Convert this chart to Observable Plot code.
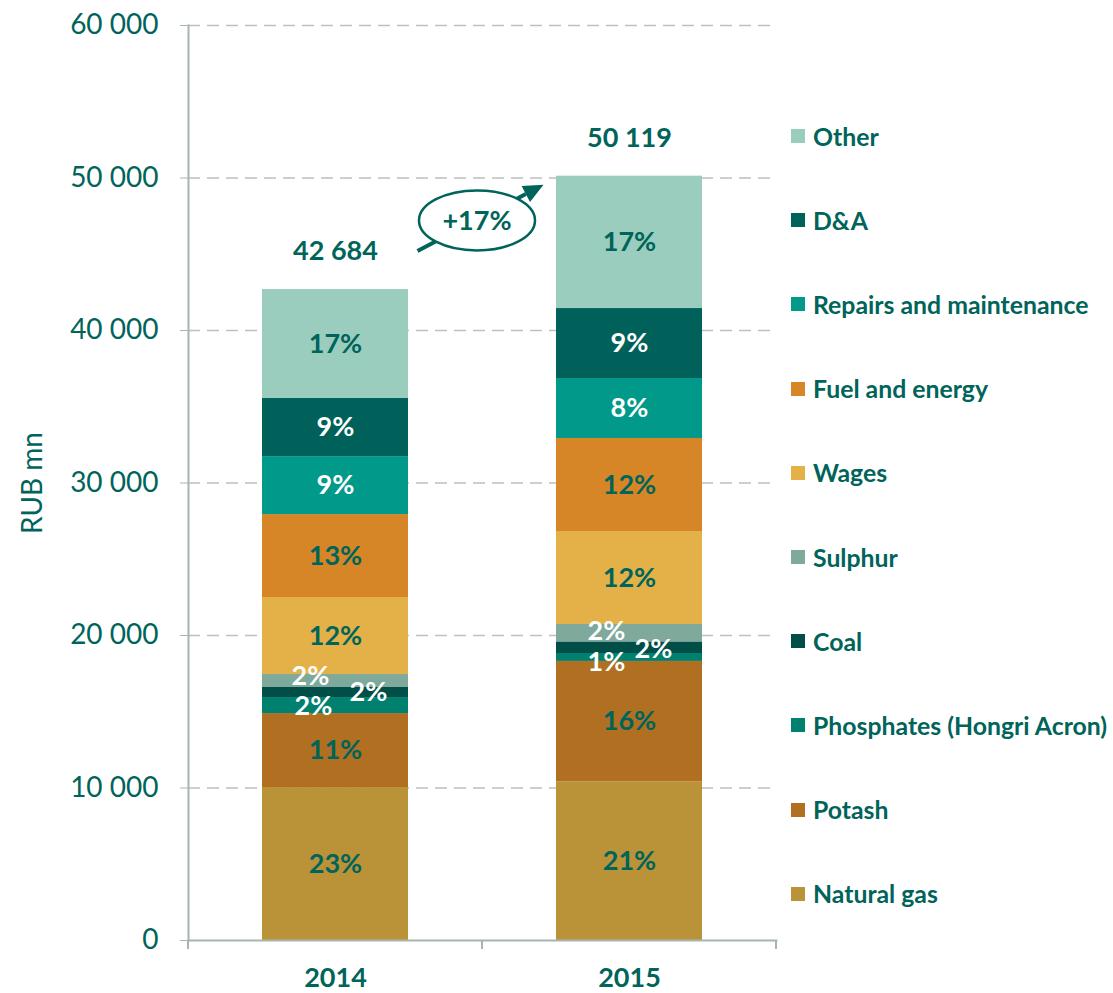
<!DOCTYPE html>
<html><head><meta charset="utf-8">
<script src="https://cdn.jsdelivr.net/npm/d3@7"></script>
<script src="https://cdn.jsdelivr.net/npm/@observablehq/plot@0.6"></script>
<style>
body{margin:0;background:#fff;font-family:Lato,sans-serif;}
#wrap{position:relative;width:1113px;height:993px;overflow:hidden;}
#chart{position:absolute;left:0;top:0;}
#legend{position:absolute;left:791px;top:94px;}
.item{height:84.2px;display:flex;align-items:center;white-space:nowrap;font-weight:bold;font-size:24.8px;color:#00645A;}
.sw{width:14px;height:14px;margin-right:8px;flex:none;}
</style></head><body>
<div id="wrap"><div id="chart"></div><div id="legend"></div></div>
<script>
// ---- data ----
const years = ["2014", "2015"];
const categories = ["Natural gas", "Potash", "Phosphates (Hongri Acron)", "Coal", "Sulphur",
  "Wages", "Fuel and energy", "Repairs and maintenance", "D&A", "Other"];
const values2014 = [10030, 4850, 1050, 660, 850, 5050, 5440, 3800, 3810, 7144];
const values2015 = [10400, 7900, 520, 760, 1140, 6100, 6100, 3930, 4590, 8679];
const shares2014 = ["23%", "11%", "2%", "2%", "2%", "12%", "13%", "9%", "9%", "17%"];
const shares2015 = ["21%", "16%", "1%", "2%", "2%", "12%", "12%", "8%", "9%", "17%"];
const totals = [42684, 50119];
const totalLabels = ["42 684", "50 119"];
const growthLabel = "+17%";
const yTicks = [0, 10000, 20000, 30000, 40000, 50000, 60000];

// ---- styles ----
const colors = ["#BA9238", "#B06F21", "#00816F", "#004E47", "#7EA99B",
  "#E4B148", "#D68627", "#00998A", "#00615A", "#9ACDBD"];
const whiteText = new Set(["Phosphates (Hongri Acron)", "Coal", "Sulphur", "Repairs and maintenance", "D&A"]);
const TEAL = "#00645A";
const FONT = "Lato, sans-serif";
// label nudges for thin segments [dx, dy]
const nudges = {
  "2014|Sulphur": [-25, -5], "2014|Phosphates (Hongri Acron)": [-22, 1], "2014|Coal": [33, 0],
  "2015|Sulphur": [-23, -2], "2015|Phosphates (Hongri Acron)": [-23, 5], "2015|Coal": [24, 2]
};

const rows = [];
years.forEach((yr, j) => categories.forEach((c, i) => rows.push({
  year: yr, category: c,
  value: (j ? values2015 : values2014)[i],
  share: (j ? shares2015 : shares2014)[i]
})));
const totalRows = years.map((y, i) => ({year: y, total: totals[i], label: totalLabels[i]}));

const fmt = v => d3.format(",")(v).replace(/,/g, " ");
const stackOpts = {x: "year", y: "value", z: "category", order: categories};
const key = d => d.year + "|" + d.category;

const labelMarks = [];
labelMarks.push(Plot.text(rows, Plot.filter(d => !(key(d) in nudges), Plot.stackY({
  ...stackOpts, text: "share",
  fill: d => whiteText.has(d.category) ? "#ffffff" : TEAL,
  fontSize: 27, fontWeight: "bold", fontFamily: FONT
}))));
for (const [k, [dx, dy]] of Object.entries(nudges)) {
  labelMarks.push(Plot.text(rows, Plot.filter(d => key(d) === k, Plot.stackY({
    ...stackOpts, text: "share", fill: "#ffffff", dx, dy,
    fontSize: 27, fontWeight: "bold", fontFamily: FONT
  }))));
}

const plot = Plot.plot({
  width: 790, height: 993,
  marginLeft: 188, marginRight: 14, marginTop: 25, marginBottom: 53,
  style: {fontFamily: FONT, background: "#fff", overflow: "visible"},
  x: {domain: years, paddingInner: 0, paddingOuter: 0, padding: 0},
  y: {domain: [0, 60000]},
  color: {domain: categories, range: colors},
  marks: [
    Plot.gridY(yTicks.filter(v => v > 0), {stroke: "#BFBFBF", strokeOpacity: 1, strokeWidth: 1.5, strokeDasharray: "12,7"}),
    Plot.barY(rows, Plot.stackY({...stackOpts, fill: "category", insetLeft: 74, insetRight: 74})),
    Plot.frame({anchor: "left", stroke: "#A7B5B1", strokeWidth: 2}),
    Plot.frame({anchor: "bottom", stroke: "#A7B5B1", strokeWidth: 2}),
    Plot.axisY(yTicks, {tickFormat: fmt, tickSize: 8, tickPadding: 22, fontSize: 28, color: TEAL, stroke: "#A7B5B1",
      label: "RUB mn", labelAnchor: "center", labelOffset: 166, labelArrow: "none"}),
    Plot.axisX({tickSize: 0, tickPadding: 27, fontSize: 27, fontWeight: "bold", color: TEAL, label: null}),
    ...labelMarks,
    Plot.text(totalRows, {x: "year", y: "total", text: "label", dy: -38, fill: TEAL,
      fontSize: 27, fontWeight: "bold", fontFamily: FONT})
  ]
});
document.getElementById("chart").appendChild(plot);

// ---- annotation + x tick marks via the plot's scales ----
const xs = plot.scale("x"), ys = plot.scale("y");
const bw = xs.bandwidth;
const svg = d3.select(plot);
const g = svg.append("g");
const bounds = [xs.apply(years[0]), xs.apply(years[1]), xs.apply(years[1]) + bw];
const y0 = ys.apply(0);
bounds.forEach(bx => g.append("line").attr("x1", bx).attr("x2", bx).attr("y1", y0).attr("y2", y0 + 9)
  .attr("stroke", "#A7B5B1").attr("stroke-width", 2));

const barRight14 = xs.apply(years[0]) + bw * 0.75;
const barLeft15 = xs.apply(years[1]) + bw * 0.25;
const tail = [barRight14 + 9, ys.apply(totals[0]) - 38];
const tip = [barLeft15 - 12, ys.apply(totals[1]) + 9];
const ang = Math.atan2(tip[1] - tail[1], tip[0] - tail[0]);
const hl = 20, hw = 9;
const base = [tip[0] - hl * Math.cos(ang), tip[1] - hl * Math.sin(ang)];
g.append("line").attr("x1", tail[0]).attr("y1", tail[1]).attr("x2", base[0]).attr("y2", base[1])
  .attr("stroke", TEAL).attr("stroke-width", 4);
g.append("polygon").attr("fill", TEAL).attr("points", [
  tip,
  [base[0] + hw * Math.sin(ang), base[1] - hw * Math.cos(ang)],
  [base[0] - hw * Math.sin(ang), base[1] + hw * Math.cos(ang)]
].map(p => p.join(",")).join(" "));
const cx = (barRight14 + barLeft15) / 2 - 5, cy = ys.apply((totals[0] + totals[1]) / 2) - 12;
g.append("ellipse").attr("cx", cx).attr("cy", cy).attr("rx", 58).attr("ry", 30)
  .attr("fill", "#fff").attr("stroke", TEAL).attr("stroke-width", 2.5);
g.append("text").attr("x", cx).attr("y", cy).attr("dy", "0.35em").attr("text-anchor", "middle")
  .attr("fill", TEAL).attr("font-size", 27).attr("font-weight", "bold").attr("font-family", FONT).text(growthLabel);

// ---- legend (top to bottom: reversed stack order) ----
const leg = d3.select("#legend");
categories.slice().reverse().forEach(c => {
  const it = leg.append("div").attr("class", "item");
  it.append("div").attr("class", "sw").style("background", colors[categories.indexOf(c)]);
  it.append("span").text(c);
});
</script>
</body></html>
